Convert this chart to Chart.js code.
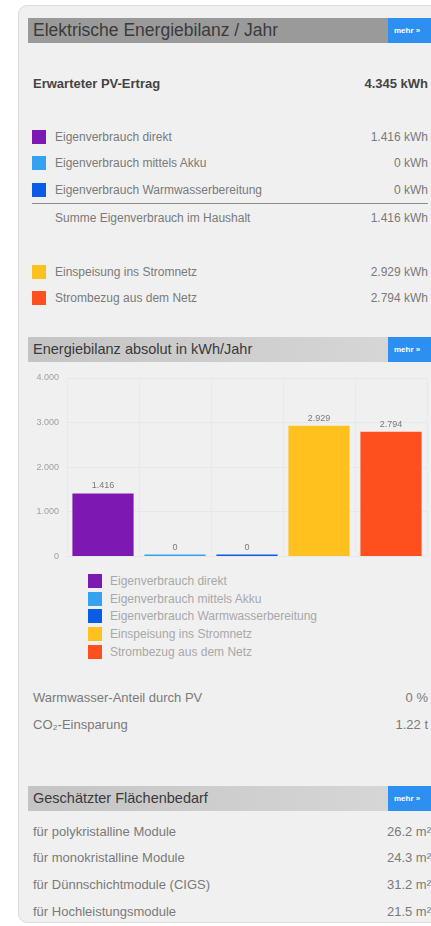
<!DOCTYPE html>
<html>
<head>
<meta charset="utf-8">
<script src="https://cdn.jsdelivr.net/npm/chart.js@4.4.1/dist/chart.umd.min.js"></script>
<style>
html,body{margin:0;padding:0;background:#fff;width:431px;height:926px;overflow:hidden;font-family:"Liberation Sans",Arial,sans-serif;}
#card{position:absolute;left:18px;top:5px;width:440px;height:918px;background:#f0f0f0;border:1px solid #dcdcdc;border-radius:9px 0 0 9px;box-sizing:border-box;}
.hdr{position:absolute;left:28px;width:360px;height:25px;line-height:25px;font-size:15px;color:#3a3a3a;padding-left:5px;box-sizing:border-box;white-space:nowrap;}
.btn{position:absolute;left:388px;width:50px;height:25px;line-height:25px;background:#2d8ff0;color:#fff;font-size:8px;font-weight:bold;padding-left:6px;box-sizing:border-box;}
.row{position:absolute;left:33px;width:395px;height:16px;line-height:16px;font-size:12px;color:#7a7a7a;white-space:nowrap;}
.row .v{position:absolute;right:0;top:0;}
.sq{position:absolute;left:32px;width:14px;height:14px;}
.lg{position:absolute;left:88px;height:15px;line-height:15px;font-size:12px;color:#a8a8a8;white-space:nowrap;}
.lg i{display:inline-block;width:14px;height:14px;vertical-align:top;margin-right:8px;}
#chartWrap{position:absolute;left:0;top:360px;width:431px;height:210px;}
</style>
</head>
<body>
<div id="card"></div>
<div id="content"></div>
<div id="chartWrap"><canvas id="c"></canvas></div>
<script>
// ---- data ----
const categories = ['Eigenverbrauch direkt','Eigenverbrauch mittels Akku','Eigenverbrauch Warmwasserbereitung','Einspeisung ins Stromnetz','Strombezug aus dem Netz'];
const values = [1416, 0, 0, 2929, 2794];
const barColors = ['#7e18b2','#34a2f0','#0a5be6','#fec11e','#fe4f1e'];
const yTickValues = [0, 1000, 2000, 3000, 4000];
const pvYield = '4.345 kWh';
const balanceValues = ['1.416 kWh','0 kWh','0 kWh','2.929 kWh','2.794 kWh'];
const sumLabel = 'Summe Eigenverbrauch im Haushalt';
const sumValue = '1.416 kWh';
const extraLabels = ['Warmwasser-Anteil durch PV','CO\u2082-Einsparung'];
const extraValues = ['0 %','1.22 t'];
const areaLabels = ['für polykristalline Module','für monokristalline Module','für Dünnschichtmodule (CIGS)','für Hochleistungsmodule'];
const areaValues = ['26.2 m²','24.3 m²','31.2 m²','21.5 m²'];
const headers = ['Elektrische Energiebilanz / Jahr','Energiebilanz absolut in kWh/Jahr','Geschätzter Flächenbedarf'];

// ---- layout of text page ----
const C = document.getElementById('content');
function add(html){ C.insertAdjacentHTML('beforeend', html); }
const hdrTops = [18, 337, 786];
const hdrSizes = [17.5, 14.5, 14.5];
const hdrBgs = ['#9a9a9a','linear-gradient(90deg,#c4c4c4,#d6d6d6)','linear-gradient(90deg,#c4c4c4,#d6d6d6)'];
headers.forEach((h,i)=>{
  add(`<div class="hdr" style="top:${hdrTops[i]}px;font-size:${hdrSizes[i]}px;background:${hdrBgs[i]}">${h}</div>`);
  add(`<div class="btn" style="top:${hdrTops[i]}px">mehr »</div>`);
});
add(`<div class="row" style="top:76px;font-weight:bold;font-size:13px;color:#444">Erwarteter PV-Ertrag<span class="v">${pvYield}</span></div>`);
const rowY = [137,163,190,272,298];
categories.forEach((c,i)=>{
  add(`<div class="sq" style="top:${rowY[i]-7}px;background:${barColors[i]}"></div>`);
  add(`<div class="row" style="top:${rowY[i]-8}px;left:55px;width:373px">${c}<span class="v">${balanceValues[i]}</span></div>`);
});
add(`<div style="position:absolute;left:32px;top:203px;width:396px;height:1px;background:#8c8c8c"></div>`);
add(`<div class="row" style="top:210px;left:55px;width:373px">${sumLabel}<span class="v">${sumValue}</span></div>`);
const lgY = [581,599,616,634,652];
categories.forEach((c,i)=>{
  add(`<div class="lg" style="top:${lgY[i]-7}px"><i style="background:${barColors[i]}"></i>${c}</div>`);
});
[698,725].forEach((y,i)=>{
  add(`<div class="row" style="top:${y-8}px;font-size:13px">${extraLabels[i]}<span class="v">${extraValues[i]}</span></div>`);
});
[832,858,885,912].forEach((y,i)=>{
  add(`<div class="row" style="top:${y-8}px;width:398px;font-size:13px">${areaLabels[i]}<span class="v">${areaValues[i]}</span></div>`);
});

// ---- chart ----
const fmt = new Intl.NumberFormat('de-DE');
const valueLabels = {
  id:'valueLabels',
  afterDatasetsDraw(chart){
    const ctx = chart.ctx;
    const meta = chart.getDatasetMeta(0);
    ctx.save();
    ctx.font = '9px "Liberation Sans", Arial, sans-serif';
    ctx.fillStyle = '#7a7a7a';
    ctx.textAlign = 'center';
    ctx.textBaseline = 'bottom';
    meta.data.forEach((bar,i)=>{
      ctx.fillText(fmt.format(values[i]), bar.x, bar.y - 3);
    });
    ctx.restore();
  }
};
new Chart(document.getElementById('c'), {
  type:'bar',
  data:{
    labels: categories,
    datasets:[{
      data: values,
      backgroundColor: barColors,
      borderWidth: 0,
      minBarLength: 2,
      barPercentage: 0.85,
      categoryPercentage: 1
    }]
  },
  options:{
    locale:'de-DE',
    responsive:true,
    maintainAspectRatio:false,
    animation:false,
    layout:{padding:{top:18,right:4,bottom:12,left:0}},
    plugins:{legend:{display:false},tooltip:{enabled:false}},
    scales:{
      x:{
        ticks:{display:false},
        grid:{color:'rgba(0,0,0,0.022)',drawTicks:false},
        border:{display:false}
      },
      y:{
        min:0,max:4000,
        afterBuildTicks(s){ s.ticks = yTickValues.map(v=>({value:v})); },
        afterFit(s){ s.width = 67; },
        ticks:{padding:8,color:'#a0a0a0',font:{size:9,family:'"Liberation Sans", Arial, sans-serif'},callback:v=>fmt.format(v)},
        grid:{color:'rgba(0,0,0,0.03)',drawTicks:false},
        border:{display:false}
      }
    }
  },
  plugins:[valueLabels]
});
</script>
</body>
</html>
